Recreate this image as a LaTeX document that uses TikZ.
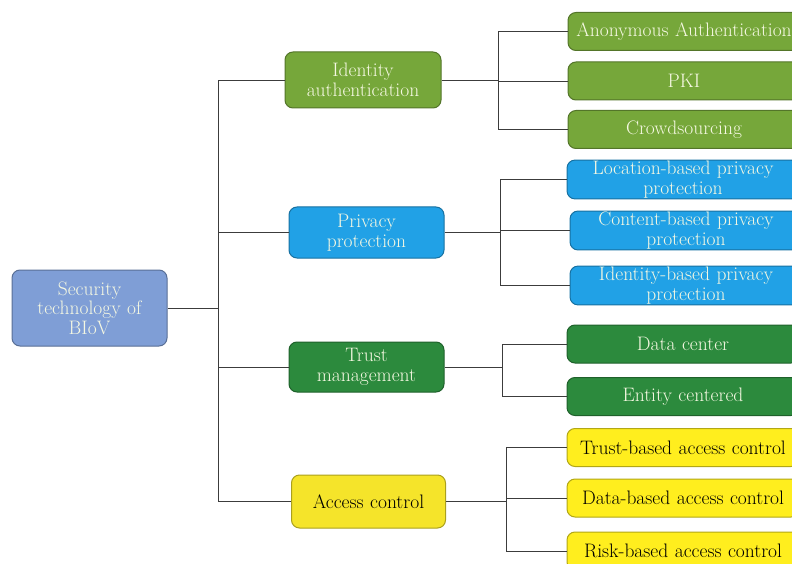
\documentclass[tikz,border=0pt]{standalone}
\usepackage{xcolor}
\definecolor{rootblue}{HTML}{7F9ED6}
\definecolor{leafgreen}{HTML}{76A73A}
\definecolor{skyblue}{HTML}{21A1E6}
\definecolor{darkgreen}{HTML}{2C8A3D}
\definecolor{accyellow}{HTML}{F5E42A}
\definecolor{leafyellow}{HTML}{FFEE1E}
\definecolor{palefont}{HTML}{F5F8E2}
\definecolor{linegray}{HTML}{3C3C3C}
\begin{document}
\begin{tikzpicture}[x=1pt,y=-1pt,
		box/.style={draw=#1!70!black,fill=#1,line width=1pt,rounded corners=8pt,
			align=center,inner sep=1pt,text=palefont,
			font=\fontsize{19.5}{19.5}\selectfont},
		topbox/.style={box=#1,minimum width=155pt,minimum height=52pt,text width=152pt},
		subbox/.style={box=#1,minimum width=232pt,minimum height=38pt,text width=230pt},
		link/.style={draw=linegray,line width=0.9pt}]
		\useasboundingbox (0,0) rectangle (792,564);
		\clip (0,0) rectangle (792,564);

		\node[box=rootblue,minimum width=155pt,minimum height=76pt,text width=152pt] (root) at (89.5,308) {Security\\technology of\\BIoV};

		\node[topbox=leafgreen,minimum width=156pt,minimum height=56pt] (ident) at (363,80) {Identity\\authentication};
		\node[topbox=skyblue,minimum height=51pt] (priv) at (366.5,232.5) {Privacy\\protection};
		\node[topbox=darkgreen,minimum height=50pt] (trust) at (366.5,367) {Trust\\management};
		\node[topbox=accyellow,text=black,minimum width=151pt,minimum height=53pt] (access) at (368.5,501.5) {Access control};

		\node[subbox=leafgreen] (anon) at (684,31.5) {Anonymous Authentication};
		\node[subbox=leafgreen] (pki) at (684,81) {PKI};
		\node[subbox=leafgreen] (crowd) at (684,129.5) {Crowdsourcing};
		\node[subbox=skyblue] (locpriv) at (683,179.5) {Location-based privacy\\protection};
		\node[subbox=skyblue] (conpriv) at (686,230.5) {Content-based privacy\\protection};
		\node[subbox=skyblue] (idpriv) at (686,285.5) {Identity-based privacy\\protection};
		\node[subbox=darkgreen] (datacen) at (683,344) {Data center};
		\node[subbox=darkgreen] (entity) at (683,396.5) {Entity centered};
		\node[subbox=leafyellow,text=black] (trustac) at (683,447.5) {Trust-based access control};
		\node[subbox=leafyellow,text=black] (dataac) at (683,498) {Data-based access control};
		\node[subbox=leafyellow,text=black] (riskac) at (683,551) {Risk-based access control};

		\coordinate (trunk) at (218,308);
		\coordinate (identfork) at (498,80);
		\coordinate (privfork) at (500,232.5);
		\coordinate (trustfork) at (502,367);
		\coordinate (accfork) at (506,501.5);

		\draw[link] (root.east) -- (trunk);
		\draw[link] (trunk) |- (ident.west);
		\draw[link] (trunk) |- (priv.west);
		\draw[link] (trunk) |- (trust.west);
		\draw[link] (trunk) |- (access.west);

		\draw[link] (ident.east) -- (identfork);
		\draw[link] (identfork) |- (anon.west);
		\draw[link] (identfork) |- (pki.west);
		\draw[link] (identfork) |- (crowd.west);

		\draw[link] (priv.east) -- (privfork);
		\draw[link] (privfork) |- (locpriv.west);
		\draw[link] (privfork) |- (conpriv.west);
		\draw[link] (privfork) |- (idpriv.west);

		\draw[link] (trust.east) -- (trustfork);
		\draw[link] (trustfork) |- (datacen.west);
		\draw[link] (trustfork) |- (entity.west);

		\draw[link] (access.east) -- (accfork);
		\draw[link] (accfork) |- (trustac.west);
		\draw[link] (accfork) |- (dataac.west);
		\draw[link] (accfork) |- (riskac.west);
	\end{tikzpicture}
\end{document}
